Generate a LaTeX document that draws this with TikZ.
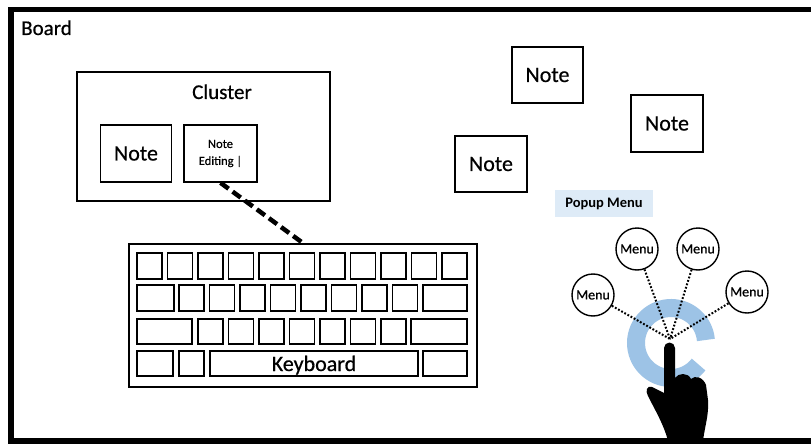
\documentclass[tikz,border=0pt]{standalone}
\usepackage{fontspec}
\setmainfont{Carlito}[UprightFeatures={FakeBold=0.6}]
\usetikzlibrary{calc}
\definecolor{ringblue}{HTML}{9DC3E6}
\definecolor{tagblue}{HTML}{DEEBF7}
\begin{document}
\begin{tikzpicture}[x=1pt,y=-1pt,
  frame/.style={line width=5.5pt},
  notebox/.style={draw, line width=1.6pt, inner sep=0pt, minimum width=71pt,
    minimum height=57pt, font=\fontsize{22}{26}\selectfont},
  key/.style={draw, line width=1.5pt},
  menu/.style={circle, draw, line width=1.4pt, minimum size=42pt, inner sep=0pt,
    font=\fontsize{14}{16}\selectfont},
  dotlink/.style={line width=2pt, dash pattern=on 1.8pt off 1.8pt},
  dashlink/.style={line width=4.5pt, dash pattern=on 10pt off 5pt},
  label/.style={inner sep=0pt, anchor=base},
]
\useasboundingbox (0,0) rectangle (811,444);
\fill[white] (0,0) rectangle (811,444);

% board frame
\draw[frame] (815,9.5) -- (11,9.5) -- (11,441) -- (815,441);
\node[label, anchor=base west, font=\fontsize{21}{25}\selectfont] (board) at (21,35) {Board};

% cluster with its two notes
\node[draw, line width=1.4pt, inner sep=0pt, minimum width=253pt, minimum height=129pt] (cluster) at (203.5,136.5) {};
\node[label, font=\fontsize{21}{25}\selectfont] (clustertitle) at (222,99) {Cluster};
\node[notebox] (n1) at (136,153.5) {Note};
\node[notebox, minimum width=73pt, align=center, font=\fontsize{12.5}{17}\selectfont] (ne) at (220.5,153.5) {Note\\Editing |};

% loose notes
\node[notebox, minimum height=56pt] (n2) at (547.5,75) {Note};
\node[notebox, minimum width=72pt] (n3) at (667,123.5) {Note};
\node[notebox, minimum width=72pt, minimum height=56pt] (n4) at (491,164) {Note};

% keyboard
\node[draw, line width=1.8pt, inner sep=0pt, minimum width=348pt, minimum height=143pt] (kb) at (303,315.5) {};
\foreach \i in {0,...,10} \draw[key] ({137+30.5*\i},253) rectangle ++(25,26);
\draw[key] (137,285) rectangle (174,311);
\foreach \i in {0,...,7} \draw[key] ({179+30.5*\i},285) rectangle ++(25,26);
\draw[key] (423,285) rectangle (467,311);
\draw[key] (137,319) rectangle (192,344);
\foreach \i in {0,...,6} \draw[key] ({198+30.5*\i},319) rectangle ++(25,25);
\draw[key] (411,319) rectangle (467,344);
\draw[key] (137,351) rectangle (173,376);
\draw[key] (179,351) rectangle (204,376);
\node[key, inner sep=0pt, minimum width=208pt, minimum height=25pt] (space) at (314,363.5) {};
\node[label, font=\fontsize{22}{26}\selectfont] (kbname) at (314,371) {Keyboard};
\draw[key] (423,351) rectangle (467,376);

% editing link
\draw[dashlink] (ne.south) -- (kb.north);

% popup menu
\node[fill=tagblue, inner sep=0pt, minimum width=98pt, minimum height=27pt,
  font=\bfseries\fontsize{14.5}{16}\selectfont] (popup) at (604,203.5) {Popup Menu};

\coordinate (ringc) at (671,343);
\draw[ringblue, line width=18pt] ($(ringc)+(5:35pt)$) arc[start angle=5, end angle=322, radius=35pt];

\coordinate (touch) at (670,339);
\node[menu] (m1) at (593,295) {Menu};
\node[menu] (m2) at (637,249) {Menu};
\node[menu] (m3) at (698,249) {Menu};
\node[menu] (m4) at (747,292) {Menu};
\foreach \m in {m1,m2,m3,m4} \draw[dotlink] (\m) -- (touch);

% pointing hand
\fill[black] (664,393) -- (664,348) arc[start angle=180, end angle=0, radius=5.5pt]
  -- (675,378) .. controls (678,373) and (688,372) .. (691,379)
  .. controls (695,375) and (703,377) .. (706,385)
  -- (708,400) .. controls (709,415) and (705,425) .. (703,441)
  -- (668,441) .. controls (664,425) and (655,410) .. (648,396)
  .. controls (645,391) and (647,385) .. (652,387) -- cycle;
\end{tikzpicture}
\end{document}
